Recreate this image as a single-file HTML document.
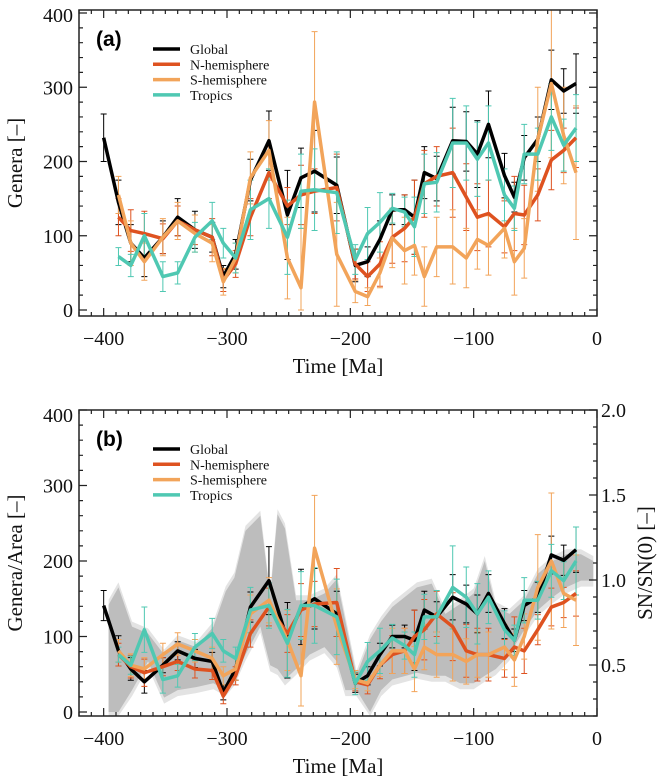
<!DOCTYPE html>
<html><head><meta charset="utf-8"><style>
body{margin:0;background:#fff}
svg{display:block}
text{font-family:"Liberation Serif",serif}
</style></head><body>
<svg id="fig" width="664" height="783" viewBox="0 0 664 783"></svg>
<script>
const times=[-400,-388,-378,-367,-352,-340,-326,-312,-303,-293,-281,-266,-251,-240,-229,-211,-196,-186,-176,-166,-156,-148,-140,-130,-117,-106,-97,-88,-75,-67,-59,-48,-37,-27,-17];
const xTicks=[-400,-300,-200,-100,0];
const yTicks=[0,100,200,300,400];
const rTicks=[0.5,1.0,1.5,2.0];
// Panel a
const globalA=[232,145,90,70,98,125,108,98,45,75,175,228,128,178,187,168,60,65,95,135,135,125,185,177,228,227,210,250,181,152,205,230,310,295,305];
const northA=[null,125,107,103,96,120,108,98,40,62,125,185,140,155,160,165,62,45,62,98,110,125,170,180,185,152,125,130,112,130,128,155,202,215,232];
const southA=[null,155,90,65,98,120,103,90,38,70,178,215,70,30,280,75,25,18,50,97,80,87,45,85,85,70,95,87,110,65,83,230,305,235,185];
const tropA=[null,72,60,100,45,50,98,120,90,70,135,150,98,160,162,158,68,103,118,137,132,112,170,172,225,225,203,225,155,137,210,210,260,222,245];
const errGA=[32,30,25,25,22,25,25,20,15,20,28,40,60,40,55,38,22,20,25,20,20,50,35,30,45,40,45,45,30,20,30,30,40,30,40];
const errNA=[0,25,28,30,20,20,20,25,15,18,25,35,25,40,30,45,20,20,30,35,45,50,45,40,60,45,45,45,35,50,40,35,40,30,40];
const errSA=[0,25,30,25,25,25,25,25,18,20,35,40,55,80,95,70,15,12,20,40,45,40,40,40,50,40,40,40,40,45,40,70,100,65,90];
const errTA=[0,12,15,30,20,15,20,25,20,20,40,40,50,50,55,55,20,35,40,20,20,40,40,40,60,50,50,50,35,30,40,35,45,35,45];
// Panel b
const globalB=[141,81,57,40,62,81,71,67,26,57,139,174,95,139,150,130,38,48,76,100,100,95,135,126,152,143,130,157,117,95,141,152,208,201,215];
const northB=[null,76,60,52,60,67,57,55,21,48,104,139,104,135,143,145,40,36,62,76,81,100,109,130,113,81,76,76,71,86,81,109,139,145,157];
const southB=[null,81,62,57,76,90,81,71,48,57,130,148,95,48,217,113,43,38,62,81,81,57,86,76,76,67,76,76,86,69,100,165,200,157,148];
const tropB=[null,76,62,109,43,48,86,104,81,71,135,141,91,141,141,126,38,67,81,98,88,76,126,126,165,152,130,152,109,95,148,148,187,174,200];
const errGB=[20,20,15,15,10,12,12,12,10,15,20,45,50,50,40,30,12,12,15,15,15,40,25,20,30,25,25,25,20,15,20,20,25,20,30];
const errNB=[0,15,15,18,12,12,12,12,10,12,18,25,25,35,30,45,12,12,18,25,30,35,40,30,45,35,35,35,25,40,30,20,25,20,30];
const errSB=[0,15,15,15,15,15,15,15,12,15,25,30,40,40,70,50,12,10,15,30,30,30,30,30,35,30,30,30,30,35,30,70,90,45,60];
const errTB=[0,10,12,30,18,15,18,20,15,15,30,30,45,45,50,50,15,25,30,18,18,30,30,35,55,40,40,35,25,20,30,25,35,25,45];
const bandT=[-396,-388,-377,-364,-351,-340,-325,-311,-301,-294,-285,-273,-265,-259,-253,-244,-233,-221,-211,-204,-195,-184,-175,-166,-146,-134,-123,-111,-100,-91,-82,-71,-59,-48,-36,-25,-13,-3];
const bandHi=[142,165,113,104,76,95,86,113,160,178,240,260,153,262,243,148,148,157,176,120,48,96,120,139,165,170,130,143,157,200,139,130,148,183,200,209,209,200];
const bandLo=[0,0,29,67,19,29,33,38,29,43,76,113,62,57,43,57,76,86,67,29,29,0,29,43,52,48,48,38,38,48,57,76,109,135,152,165,174,174];

const NS='http://www.w3.org/2000/svg';
const svg=document.getElementById('fig');
function el(tag,attrs,parent){const e=document.createElementNS(NS,tag);for(const k in attrs)e.setAttribute(k,attrs[k]);(parent||svg).appendChild(e);return e;}
const X0=79,X1=597;
function xs(t){return X0+(t+420)/420*(X1-X0);}
const COL={g:'#000000',n:'#de5220',s:'#f2a45a',t:'#4fc8b2'};

function panel(id,top,bot,y0,y400,series,label,ylab,hasRight){
  const g=el('g',{});
  
  
  const ys=v=>y0+(y400-y0)*v/400;
  if(hasRight){
    const up=bandT.map((t,i)=>xs(t)+','+ys(bandHi[i])).join(' ');
    const lo=bandT.map((t,i)=>xs(t)+','+ys(bandLo[i])).reverse().join(' ');
    const upL=bandT.map((t,i)=>xs(t)+','+(ys(bandHi[i])-5)).join(' ');
    const loL=bandT.map((t,i)=>xs(t)+','+Math.min(bot,ys(bandLo[i])+6)).reverse().join(' ');
    const b1=el('polygon',{points:upL+' '+loL,fill:'#e3e3e3'},g);
    
    
    const b2=el('polygon',{points:up+' '+lo,fill:'#bdbdbd'},g);
    
    
  }
  series.forEach(s=>{
    s.v.forEach((v,i)=>{
      if(v==null||!s.e[i])return;
      const x=xs(times[i]);const a=Math.max(top,ys(v+s.e[i])),b=Math.min(bot,ys(Math.max(0,v-s.e[i])));
      const eb=el('path',{d:`M${x},${a}V${b}M${x-3},${a}H${x+3}M${x-3},${b}H${x+3}`,stroke:s.c,'stroke-width':1,fill:'none'},g);
      
      
    });
  });
  series.forEach(s=>{
    let d='';s.v.forEach((v,i)=>{if(v==null)return;d+=(d?'L':'M')+xs(times[i])+','+ys(v);});
    const p=el('path',{d:d,stroke:s.c,'stroke-width':3.5,fill:'none','stroke-linejoin':'round'},g);
    
    
  });
  const fr=el('rect',{x:X0,y:top,width:X1-X0,height:bot-top,fill:'none',stroke:'#222','stroke-width':1.5},g);
  
  
  let tk='';
  for(let t=-420;t<=0;t+=10){const x=xs(t);const L=(t%100===0)?8:4;tk+=`M${x},${bot}v${-L}M${x},${top}v${L}`;}
  for(let v=0;v<=400;v+=20){const y=ys(v);const L=(v%100===0)?8:4;tk+=`M${X0},${y}h${L}`;if(!hasRight)tk+=`M${X1},${y}h${-L}`;}
  if(hasRight){const ry=v=>410+(2.0-v)*170;
    for(let v=0.2;v<=2.001;v+=0.1){const y=ry(v);if(y>bot+0.5)continue;const L=(Math.round(v*10)%5===0)?8:4;tk+=`M${X1},${y}h${-L}`;}
    rTicks.forEach(v=>{const t=el('text',{x:X1+4,y:ry(v)+7,'font-size':20,fill:'#111'},g);t.textContent=v.toFixed(1);
      });
  }
  const tp=el('path',{d:tk,stroke:'#222','stroke-width':1.2},g);
  
  
  yTicks.forEach(v=>{const t=el('text',{x:X0-6,y:Math.max(ys(v)+7,top+12),'font-size':20,'text-anchor':'end',fill:'#111'},g);t.textContent=v;
    });
  xTicks.forEach(v=>{const t=el('text',{x:xs(v),y:bot+29,'font-size':20,'text-anchor':'middle',fill:'#111'},g);t.textContent=v===0?'0':'\u2212'+(-v);
    });
  const xt=el('text',{x:(X0+X1)/2,y:bot+57,'font-size':21,'text-anchor':'middle',fill:'#111'},g);xt.textContent='Time [Ma]';
  
  const yt=el('text',{x:0,y:0,'font-size':21,'text-anchor':'middle',fill:'#111',transform:`translate(22,${(top+bot)/2}) rotate(-90)`},g);yt.textContent=ylab;
  
  const pl=el('text',{x:96,y:top+36,'font-size':21,'font-weight':'bold',fill:'#000',style:'font-family:"Liberation Sans",sans-serif'},g);pl.textContent=label;
  
  const names=['Global','N-hemisphere','S-hemisphere','Tropics'];
  series.forEach((s,i)=>{const y=top+39+i*15.3;
    const ln=el('line',{x1:153,x2:180,y1:y,y2:y,stroke:s.c,'stroke-width':3.5},g);
    
    const tx=el('text',{x:190,y:y+5,'font-size':14,fill:'#111'},g);tx.textContent=names[i];
    });
  if(hasRight){const rt=el('text',{x:0,y:0,'font-size':21,'text-anchor':'middle',fill:'#111',transform:`translate(652,${(top+bot)/2}) rotate(-90)`},g);rt.textContent='SN/SN(0)  [\u2013]';
    }
}
panel('a',10,316,310,13,[
 {k:'global',v:globalA,e:errGA,c:COL.g},{k:'north',v:northA,e:errNA,c:COL.n},
 {k:'south',v:southA,e:errSA,c:COL.s},{k:'tropics',v:tropA,e:errTA,c:COL.t}],'(a)','Genera [\u2013]',false);
panel('b',410,716,712,410,[
 {k:'global',v:globalB,e:errGB,c:COL.g},{k:'north',v:northB,e:errNB,c:COL.n},
 {k:'south',v:southB,e:errSB,c:COL.s},{k:'tropics',v:tropB,e:errTB,c:COL.t}],'(b)','Genera/Area [\u2013]',true);
</script>
</body></html>
